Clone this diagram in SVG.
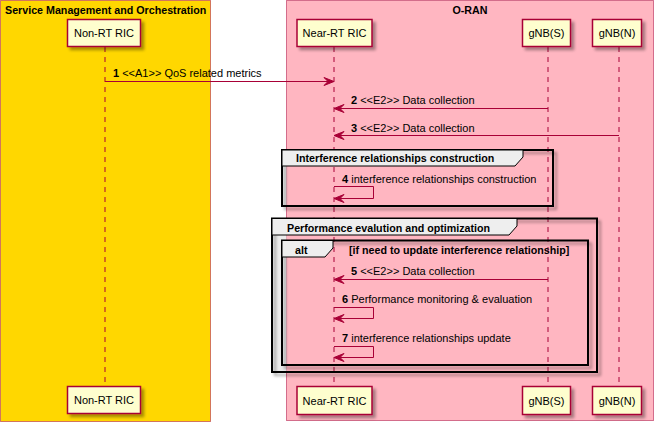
<svg xmlns="http://www.w3.org/2000/svg" width="655" height="423" viewBox="0 0 655 423">
<defs>
<style>
text{font-family:"Liberation Sans",Arial,sans-serif;fill:#000;}
.t{font-size:11px;}
.b{font-weight:bold;}
.bt{font-size:10.7px;font-weight:bold;}
.part rect{fill:#FEFECE;stroke:#A80036;stroke-width:1.5;filter:url(#sh);}
.part text{font-size:11px;text-anchor:middle;}
.life{stroke:#A80036;stroke-width:1;stroke-dasharray:5,5;fill:none;}
.msg{stroke:#A80036;stroke-width:1;fill:none;}
.head{fill:#A80036;stroke:#A80036;stroke-width:1;}
.frame{fill:none;stroke:#000;stroke-width:2;filter:url(#sh);}
.tab{fill:#EEEEEE;stroke:#000;stroke-width:1;}
</style>
<filter id="sh" x="-10%" y="-10%" width="130%" height="140%">
<feGaussianBlur in="SourceAlpha" stdDeviation="1.8"/>
<feOffset dx="3" dy="3"/>
<feComponentTransfer><feFuncA type="linear" slope="0.35"/></feComponentTransfer>
<feMerge><feMergeNode/><feMergeNode in="SourceGraphic"/></feMerge>
</filter>
</defs>
<rect width="655" height="423" fill="#FFFFFF"/>
<g id="box-smo">
<rect x="0.5" y="0.5" width="210" height="421" fill="#FFD700" stroke="#A80036" stroke-opacity="0.5"/>
<text class="bt" x="5" y="14">Service Management and Orchestration</text>
</g>
<g id="box-oran">
<rect x="286.5" y="0.5" width="367" height="420" fill="#FFB6C1" stroke="#A80036" stroke-opacity="0.5"/>
<text class="bt" x="470" y="14" text-anchor="middle">O-RAN</text>
</g>
<g id="lifelines">
<line class="life" x1="105" y1="47" x2="105" y2="386"/>
<line class="life" x1="334" y1="47" x2="334" y2="386"/>
<line class="life" x1="548" y1="47" x2="548" y2="386"/>
<line class="life" x1="619" y1="47" x2="619" y2="386"/>
</g>
<g id="group-interference">
<rect x="282" y="150" width="4.5" height="56" fill="#EEEEEE"/>
<rect class="frame" x="282" y="150" width="271" height="56"/>
<polygon class="tab" points="282,150 523,150 523,157 515,166 282,166"/>
<text class="bt" x="296" y="162">Interference relationships construction</text>
</g>
<g id="group-performance">
<rect x="272" y="218.5" width="14.5" height="153.5" fill="#EBEBEB"/>
<rect class="frame" x="272" y="218.5" width="325" height="153.5"/>
<polygon class="tab" points="272,218.5 517,218.5 517,226 509,235 272,235"/>
<text class="bt" x="287" y="232">Performance evalution and optimization</text>
</g>
<g id="group-alt">
<rect class="frame" x="282" y="240.5" width="306" height="124.5"/>
<polygon class="tab" points="282,240.5 333,240.5 333,248 325,257 282,257"/>
<text class="bt" x="295" y="253.5">alt</text>
<text class="bt" x="349" y="253.5">[if need to update interference relationship]</text>
</g>
<g id="connectors">
<line class="msg" x1="105" y1="81.5" x2="330" y2="81.5"/>
<polygon class="head" points="324,77.5 334,81.5 324,85.5 328,81.5"/>
<text class="t" x="113" y="77"><tspan class="b">1</tspan> &lt;&lt;A1&gt;&gt; QoS related metrics</text>
<line class="msg" x1="548" y1="108.5" x2="338" y2="108.5"/>
<polygon class="head" points="344,104.5 334,108.5 344,112.5 340,108.5"/>
<text class="t" x="351" y="104"><tspan class="b">2</tspan> &lt;&lt;E2&gt;&gt; Data collection</text>
<line class="msg" x1="619" y1="135.5" x2="338" y2="135.5"/>
<polygon class="head" points="344,131.5 334,135.5 344,139.5 340,135.5"/>
<text class="t" x="351" y="131.5"><tspan class="b">3</tspan> &lt;&lt;E2&gt;&gt; Data collection</text>
<path class="msg" d="M334,186.5 H373.5 V198.5 H338"/>
<polygon class="head" points="344,194.5 334,198.5 344,202.5 340,198.5"/>
<text class="t" x="342" y="183"><tspan class="b">4</tspan> interference relationships construction</text>
<line class="msg" x1="548" y1="279.5" x2="338" y2="279.5"/>
<polygon class="head" points="344,275.5 334,279.5 344,283.5 340,279.5"/>
<text class="t" x="351" y="274.5"><tspan class="b">5</tspan> &lt;&lt;E2&gt;&gt; Data collection</text>
<path class="msg" d="M334,307.5 H373.5 V318.5 H338"/>
<polygon class="head" points="344,314.5 334,318.5 344,322.5 340,318.5"/>
<text class="t" x="342" y="302.5"><tspan class="b">6</tspan> Performance monitoring &amp; evaluation</text>
<path class="msg" d="M334,346.5 H373.5 V357.5 H338"/>
<polygon class="head" points="344,353.5 334,357.5 344,361.5 340,357.5"/>
<text class="t" x="342" y="341.5"><tspan class="b">7</tspan> interference relationships update</text>
</g>
<g id="p-nonrt" class="part">
<rect x="67.5" y="19.5" width="73" height="27"/>
<text x="104" y="37">Non-RT RIC</text>
<rect x="67.5" y="386.5" width="73" height="27"/>
<text x="104" y="404">Non-RT RIC</text>
</g>
<g id="p-nearrt" class="part">
<rect x="297" y="19.5" width="75" height="27"/>
<text x="334.5" y="37">Near-RT RIC</text>
<rect x="297" y="386.5" width="75" height="28"/>
<text x="334.5" y="404.5">Near-RT RIC</text>
</g>
<g id="p-gnbs" class="part">
<rect x="522.5" y="19.5" width="48" height="27"/>
<text x="546.5" y="37">gNB(S)</text>
<rect x="522.5" y="386.5" width="48" height="28"/>
<text x="546.5" y="404.5">gNB(S)</text>
</g>
<g id="p-gnbn" class="part">
<rect x="592.5" y="19.5" width="49" height="27"/>
<text x="617" y="37">gNB(N)</text>
<rect x="592.5" y="386.5" width="49" height="28"/>
<text x="617" y="404.5">gNB(N)</text>
</g>
</svg>
